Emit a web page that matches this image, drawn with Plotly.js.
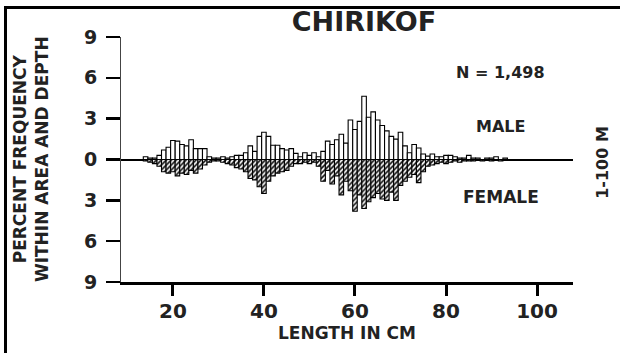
<!DOCTYPE html>
<html>
<head>
<meta charset="utf-8">
<script src="https://cdn.plot.ly/plotly-3.0.1.min.js"></script>
<style>
  html, body { margin: 0; padding: 0; background: #fff; }
  #wrap { position: relative; width: 620px; height: 353px; overflow: hidden; }
  #chart { position: absolute; left: 0; top: 0; width: 620px; height: 353px; }
  #frame { position: absolute; left: 4px; top: 6px; width: 640px; height: 400px;
           border-top: 3px solid #000; border-left: 3px solid #000; pointer-events: none; }
</style>
</head>
<body>
<div id="wrap"><div id="chart"></div><div id="frame"></div></div>
<script>
// Length classes (cm)
const lengths = [14,15,16,17,18,19,20,21,22,23,24,25,26,27,28,29,30,31,32,33,
                 34,35,36,37,38,39,40,41,42,43,44,45,46,47,48,49,50,51,52,53,
                 54,55,56,57,58,59,60,61,62,63,64,65,66,67,68,69,70,71,72,73,
                 74,75,76,77,78,79,80,81,82,83,84,85,86,87,88,89,90,91,92,93];
// Percent frequency, males (plotted above zero)
const male = [0.2,0.1,0.1,0.3,0.7,0.9,1.4,1.35,1.1,1.0,1.45,0.8,0.8,0.8,0.2,0.1,0.1,0.2,0.1,0.2,
              0.3,0.3,0.5,1.0,0.6,1.7,2.0,1.7,1.05,1.05,0.8,0.7,0.8,0.45,0.2,0.5,0.3,0.5,0.2,0.6,
              1.35,1.1,1.45,1.85,1.2,2.9,2.2,2.8,4.65,3.1,3.5,2.9,2.5,2.1,1.7,1.5,2.0,1.0,0.5,1.1,
              0.85,0.4,0.25,0.4,0.2,0.2,0.3,0.3,0.2,0.1,0.1,0.3,0.1,0.1,0.0,0.1,0.1,0.2,0.0,0.1];
// Percent frequency, females (plotted below zero)
const female = [0.1,0.2,0.3,0.5,0.9,1.0,0.9,1.2,1.0,1.1,0.8,1.0,0.7,0.4,0.2,0.1,0.1,0.2,0.3,0.4,
                0.6,0.7,0.9,1.4,1.5,2.0,2.5,1.6,1.2,1.0,0.9,0.8,0.5,0.3,0.3,0.2,0.3,0.2,0.5,1.6,
                0.8,1.8,1.2,2.6,1.6,2.3,3.8,2.6,3.6,3.1,2.8,2.5,2.9,3.0,2.4,3.0,1.9,1.6,1.3,1.1,
                1.7,0.9,0.5,0.4,0.3,0.2,0.3,0.2,0.1,0.2,0.1,0.1,0.1,0.0,0.1,0.0,0.1,0.0,0.1,0.0];
const yTickVals = [-9,-6,-3,0,3,6,9];
const yTickText = ["9","6","3","0","3","6","9"];
const xTickVals = [20,40,60,80,100];

const F = "DejaVu Sans, Arial, sans-serif";

const traces = [
  {
    type: "bar", name: "Male", x: lengths, y: male, width: 1,
    marker: { color: "#ffffff", line: { color: "#000", width: 1.1 } },
    hoverinfo: "x+y"
  },
  {
    type: "bar", name: "Female", x: lengths, y: female.map(v => -v), width: 1,
    marker: { color: "#ffffff", line: { color: "#000", width: 1.1 },
              pattern: { shape: "/", fgcolor: "#000", bgcolor: "#fff", size: 3.5, solidity: 0.45 } },
    hoverinfo: "x+y"
  }
];

const layout = {
  width: 620, height: 353,
  margin: { l: 121, r: 47, t: 37, b: 71 },
  paper_bgcolor: "#fff", plot_bgcolor: "#fff",
  showlegend: false,
  barmode: "overlay",
  bargap: 0,
  title: { text: "<b>CHIRIKOF</b>", font: { family: F, size: 27, color: "#222" },
           x: 0.587, xref: "container", xanchor: "center", y: 0.94, yref: "container", yanchor: "middle" },
  xaxis: {
    range: [8.6, 107.9], tickvals: xTickVals, ticktext: xTickVals.map(v => "<b>" + v + "</b>"),
    ticks: "outside", ticklen: 11, tickwidth: 3, tickcolor: "#000", ticklabelstandoff: -2,
    showline: true, linewidth: 3, linecolor: "#000", showgrid: false, zeroline: false,
    tickfont: { family: F, size: 20, color: "#222" },
    title: { text: "<b>LENGTH IN CM</b>", font: { family: F, size: 17, color: "#222" }, standoff: 5 }
  },
  yaxis: {
    range: [-9, 9], tickvals: yTickVals, ticktext: yTickText.map(v => "<b>" + v + "</b>"),
    ticks: "outside", ticklen: 14, tickwidth: 2.5, tickcolor: "#000", ticklabelstandoff: 5,
    showline: true, linewidth: 1, linecolor: "#444", showgrid: false,
    zeroline: true, zerolinecolor: "#000", zerolinewidth: 2,
    tickfont: { family: F, size: 19, color: "#222" }
  },
  annotations: [
    { text: "<b>PERCENT FREQUENCY<br>WITHIN AREA AND DEPTH</b>", xref: "paper", yref: "paper",
      x: -0.2, y: 0.5, xanchor: "center", yanchor: "middle", textangle: -90, showarrow: false,
      font: { family: F, size: 17, color: "#222" } },
    { text: "<b>N = 1,498</b>", xref: "paper", yref: "paper", x: 0.8385, y: 0.857,
      xanchor: "center", yanchor: "middle", showarrow: false, font: { family: F, size: 16, color: "#222" } },
    { text: "<b>MALE</b>", xref: "paper", yref: "paper", x: 0.84, y: 0.633,
      xanchor: "center", yanchor: "middle", showarrow: false, font: { family: F, size: 16, color: "#222" } },
    { text: "<b>FEMALE</b>", xref: "paper", yref: "paper", x: 0.84, y: 0.347,
      xanchor: "center", yanchor: "middle", showarrow: false, font: { family: F, size: 17, color: "#222" } },
    { text: "<b>1-100 M</b>", xref: "paper", yref: "paper", x: 1.066, y: 0.49,
      xanchor: "center", yanchor: "middle", textangle: -90, showarrow: false, font: { family: F, size: 16, color: "#222" } }
  ]
};

Plotly.newPlot("chart", traces, layout, { staticPlot: true, displayModeBar: false });
</script>
</body>
</html>
